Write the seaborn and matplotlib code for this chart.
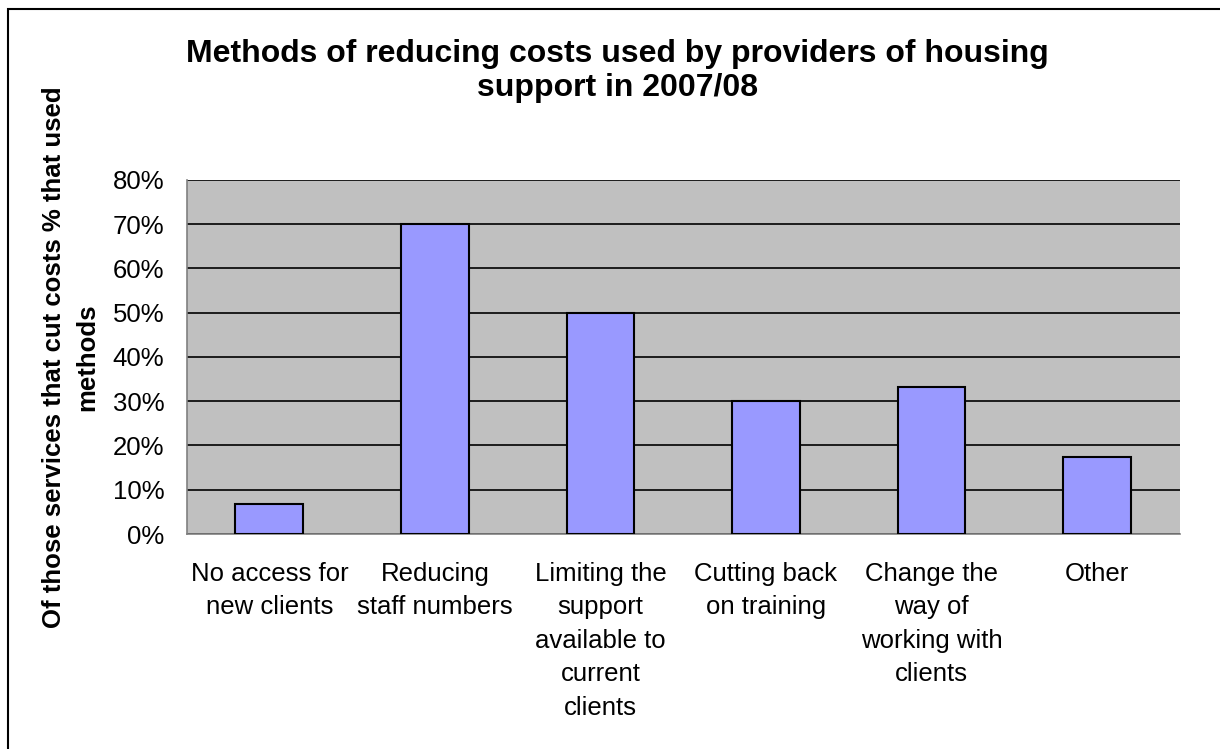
import matplotlib
matplotlib.use("Agg")
import matplotlib.pyplot as plt
import seaborn as sns
import pandas as pd
from matplotlib.patches import Rectangle
from matplotlib.ticker import PercentFormatter, MultipleLocator

categories = ["No access for\nnew clients", "Reducing\nstaff numbers",
              "Limiting the\nsupport\navailable to\ncurrent\nclients",
              "Cutting back\non training", "Change the\nway of\nworking with\nclients",
              "Other"]
values = [6.7, 70.0, 50.0, 30.0, 33.3, 17.3]

title = "Methods of reducing costs used by providers of housing\nsupport in 2007/08"
ylabel = "Of those services that cut costs % that used\nmethods"

sns.set_style("white")
plt.rcParams['font.family'] = ['Liberation Sans', 'DejaVu Sans']
plt.rcParams['text.color'] = 'black'
plt.rcParams['axes.labelcolor'] = 'black'
plt.rcParams['xtick.color'] = 'black'
plt.rcParams['ytick.color'] = 'black'

df = pd.DataFrame({"cat": categories, "val": values})

fig = plt.figure(figsize=(12.2, 7.49), dpi=100)
ax = fig.add_axes([0.153, 0.287, 0.814, 0.473])
ax.set_facecolor("#C0C0C0")

sns.barplot(data=df, x="cat", y="val", color="#9999FF", saturation=1,
            edgecolor="black", linewidth=1.5, width=0.41, ax=ax, zorder=3)

ax.set_ylim(0, 80)
ax.set_xlim(-0.5, len(categories) - 0.5)
ax.yaxis.set_major_locator(MultipleLocator(10))
ax.yaxis.set_major_formatter(PercentFormatter(decimals=0))
ax.grid(axis="y", color="black", linewidth=1.2, zorder=1)
ax.set_axisbelow(True)

for s in ["top", "right"]:
    ax.spines[s].set_visible(False)
for s in ["left", "bottom"]:
    ax.spines[s].set_color("#808080")
    ax.spines[s].set_linewidth(1.2)

ax.tick_params(axis="y", which="major", direction="out", length=7, color="#808080",
               labelsize=18.5, pad=9)
# x ticks at category boundaries
ax.set_xticks(range(len(categories)))
ax.set_xticklabels(categories, fontsize=18.5, linespacing=1.5, va="top")
ax.tick_params(axis="x", length=0, pad=20)
ax.set_xticks([i + 0.5 for i in range(-1, len(categories))], minor=True)
ax.tick_params(axis="x", which="minor", direction="out", length=7, color="#808080")
ax.set_xlabel("")
ax.set_ylabel(ylabel, fontsize=18.5, fontweight="bold", linespacing=1.5)
ax.yaxis.set_label_coords(-0.088, 0.5)

fig.text(0.506, 0.905, title, ha="center", va="center", fontsize=23,
         fontweight="bold", linespacing=1.2)

fig.patches.append(Rectangle((8 / 1220, -0.05), 1.2, 1.05 - 8.5 / 749, transform=fig.transFigure,
                             fill=False, edgecolor="black", linewidth=1.5))

fig.savefig("out.png", dpi=100)
